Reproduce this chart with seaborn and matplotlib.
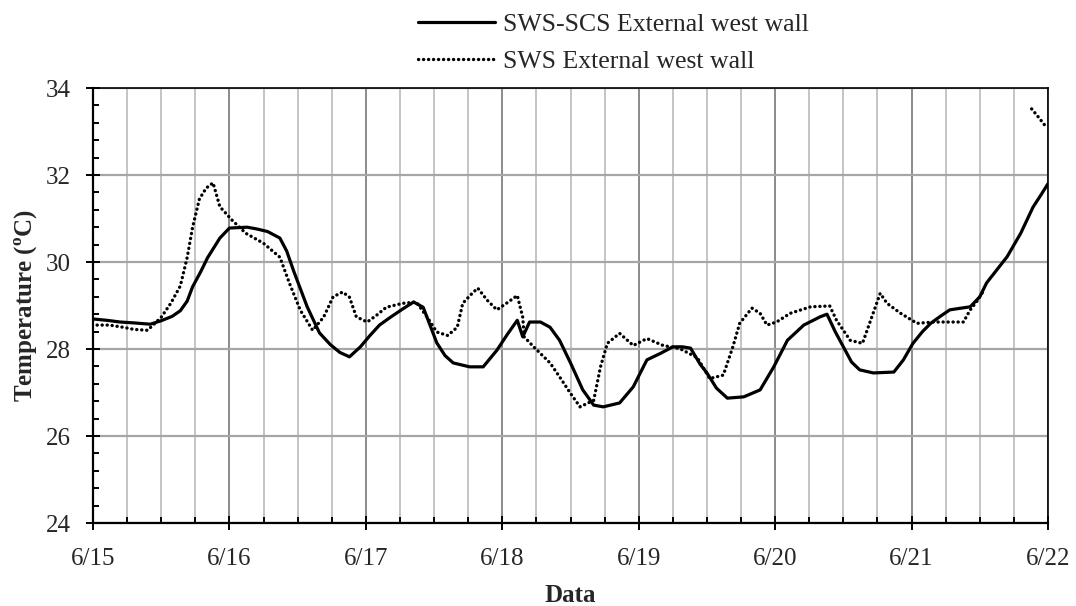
import numpy as np
import pandas as pd
import matplotlib
matplotlib.use("Agg")
import matplotlib.pyplot as plt
import seaborn as sns
from matplotlib.ticker import MultipleLocator, FixedLocator

# Days elapsed since 6/15 00:00 and wall temperatures (°C)
scs_days = [0.00, 0.10, 0.20, 0.30, 0.42, 0.50, 0.58, 0.64, 0.69, 0.73, 0.79, 0.84,
            0.93, 1.00, 1.13, 1.20, 1.28, 1.37, 1.42, 1.47, 1.57, 1.66, 1.74, 1.81,
            1.88, 1.96, 2.03, 2.10, 2.18, 2.27, 2.35, 2.42, 2.52, 2.58, 2.64, 2.76,
            2.86, 2.96, 3.04, 3.11, 3.15, 3.20, 3.28, 3.35, 3.42, 3.50, 3.59, 3.67,
            3.74, 3.86, 3.96, 4.06, 4.16, 4.25, 4.32, 4.38, 4.45, 4.50, 4.57, 4.65,
            4.77, 4.89, 4.99, 5.09, 5.21, 5.33, 5.38, 5.44, 5.50, 5.56, 5.62, 5.72,
            5.87, 5.94, 6.01, 6.08, 6.14, 6.21, 6.28, 6.43, 6.50, 6.55, 6.62, 6.70,
            6.80, 6.89, 6.95, 7.00]
scs_temp = [28.69, 28.66, 28.62, 28.60, 28.57, 28.65, 28.75, 28.88, 29.10, 29.43, 29.78, 30.10,
            30.55, 30.78, 30.80, 30.76, 30.70, 30.55, 30.25, 29.80, 28.97, 28.37, 28.10, 27.92,
            27.82, 28.05, 28.31, 28.55, 28.73, 28.92, 29.08, 28.96, 28.14, 27.85, 27.68, 27.59,
            27.59, 27.97, 28.35, 28.66, 28.28, 28.62, 28.62, 28.50, 28.20, 27.68, 27.06, 26.71,
            26.67, 26.76, 27.13, 27.75, 27.90, 28.05, 28.05, 28.02, 27.65, 27.45, 27.10, 26.87,
            26.90, 27.06, 27.59, 28.20, 28.55, 28.74, 28.80, 28.40, 28.05, 27.70, 27.52, 27.45,
            27.47, 27.75, 28.13, 28.40, 28.59, 28.75, 28.90, 28.97, 29.20, 29.52, 29.80, 30.12,
            30.66, 31.26, 31.55, 31.80]

sws_days = [0.03, 0.12, 0.22, 0.30, 0.40, 0.50, 0.57, 0.64, 0.69, 0.73, 0.78, 0.83,
            0.88, 0.93, 1.02, 1.12, 1.25, 1.37, 1.44, 1.52, 1.61, 1.69, 1.76, 1.83,
            1.88, 1.93, 2.01, 2.08, 2.15, 2.27, 2.37, 2.45, 2.52, 2.60, 2.67, 2.71,
            2.77, 2.82, 2.89, 2.96, 3.03, 3.11, 3.15, 3.16, 3.23, 3.35, 3.42, 3.50,
            3.57, 3.67, 3.72, 3.77, 3.86, 3.96, 4.06, 4.18, 4.30, 4.43, 4.52, 4.62,
            4.69, 4.74, 4.83, 4.89, 4.94, 5.01, 5.11, 5.26, 5.40, 5.45, 5.55, 5.64,
            5.70, 5.77, 5.82, 5.92, 6.04, 6.16, 6.28, 6.38, 6.43, 6.48, 6.53]
sws_temp = [28.55, 28.55, 28.50, 28.45, 28.43, 28.73, 29.05, 29.45, 30.10, 30.80, 31.45, 31.70,
            31.82, 31.27, 30.96, 30.66, 30.43, 30.11, 29.51, 28.89, 28.43, 28.73, 29.20, 29.31,
            29.19, 28.74, 28.62, 28.78, 28.96, 29.05, 29.08, 28.73, 28.39, 28.31, 28.50, 29.05,
            29.25, 29.40, 29.12, 28.90, 29.05, 29.23, 28.73, 28.28, 28.05, 27.68, 27.36, 26.98,
            26.67, 26.82, 27.59, 28.13, 28.36, 28.08, 28.24, 28.08, 28.01, 27.80, 27.32, 27.40,
            28.05, 28.59, 28.94, 28.82, 28.55, 28.62, 28.82, 28.97, 28.99, 28.66, 28.20, 28.13,
            28.66, 29.28, 29.05, 28.82, 28.59, 28.62, 28.62, 28.62, 28.90, 29.10, 29.35]
# Logger resumes shortly before midnight of 6/22
sws_late_days = [6.88, 6.93, 6.98]
sws_late_temp = [33.52, 33.33, 33.13]

date_labels = ["6/15", "6/16", "6/17", "6/18", "6/19", "6/20", "6/21", "6/22"]
series_names = ["SWS-SCS External west wall", "SWS External west wall"]

sns.set_theme(style="white")
plt.rcParams["font.family"] = ["Liberation Serif", "DejaVu Serif"]
plt.rcParams["mathtext.fontset"] = "custom"
plt.rcParams["mathtext.rm"] = "Liberation Serif:bold"

fig = plt.figure(figsize=(10.76, 6.06), dpi=100)
ax = fig.add_axes([93 / 1076, 1 - 523 / 606, (1048 - 93) / 1076, (523 - 88) / 606])

solid_kw = dict(color="black", linewidth=2.3, solid_capstyle="round",
                solid_joinstyle="round")
dot_kw = dict(color="black", linewidth=2.4, linestyle=(0, (0.05, 1.45)),
              dash_capstyle="round")

sns.lineplot(x=scs_days, y=scs_temp, ax=ax, label=series_names[0], **solid_kw)
sns.lineplot(x=sws_days, y=sws_temp, ax=ax, label=series_names[1], **dot_kw)
sns.lineplot(x=sws_late_days, y=sws_late_temp, ax=ax, legend=False, **dot_kw)

ax.set_xlim(0, 7)
ax.set_ylim(24, 34)
ax.xaxis.set_major_locator(FixedLocator(range(len(date_labels))))
ax.set_xticklabels(date_labels)
ax.xaxis.set_minor_locator(MultipleLocator(0.25))
ax.yaxis.set_major_locator(MultipleLocator(2))
ax.yaxis.set_minor_locator(MultipleLocator(0.4))

ax.grid(False)
ax.grid(which="minor", axis="x", color="#c4c4c4", linewidth=1.4)
ax.grid(which="major", axis="x", color="#8a8a8a", linewidth=1.4)
ax.grid(which="major", axis="y", color="#a6a6a6", linewidth=1.6)
ax.set_axisbelow(True)

for side in ["left", "bottom", "top", "right"]:
    ax.spines[side].set_color("black")
    ax.spines[side].set_linewidth(1.6)
ax.spines["top"].set_linewidth(1.2)
ax.spines["right"].set_linewidth(1.2)

ax.tick_params(which="major", direction="inout", length=10, width=1.4,
               color="black", labelsize=18, bottom=True, left=True)
ax.tick_params(which="minor", direction="in", length=4, width=1.4,
               color="black", bottom=True, left=True)
ax.tick_params(axis="x", which="major", pad=13)
ax.tick_params(axis="y", which="major", pad=11)

ax.set_xlabel("Data", fontsize=18, fontweight="bold", labelpad=10)
ax.set_ylabel(r"Temperature ($^{\mathrm{o}}$C)", fontsize=18, fontweight="bold", labelpad=4)

handles, labels = ax.get_legend_handles_labels()
ax.get_legend().remove()
fig.legend(handles, labels, loc="upper left", bbox_to_anchor=(418 / 1076, 1 - 13 / 606),
           frameon=False, fontsize=18.5, handlelength=3.0, handletextpad=0.3,
           labelspacing=0.55, borderpad=0, borderaxespad=0)

fig.savefig("out.png", dpi=100)
